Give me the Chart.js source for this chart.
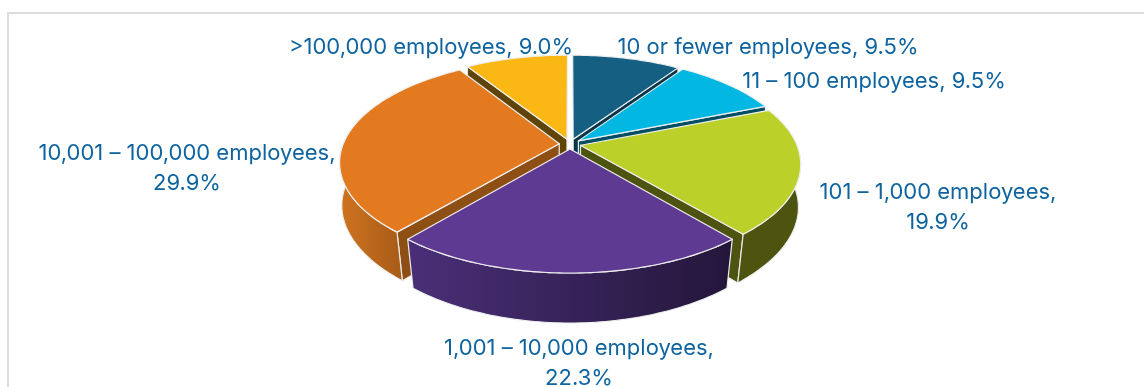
<!DOCTYPE html>
<html>
<head>
<meta charset="utf-8">
<title>Employees</title>
<script src="https://cdn.jsdelivr.net/npm/chart.js@4/dist/chart.umd.min.js"></script>
<style>
  html, body { margin: 0; padding: 0; background: #fff; overflow: hidden; }
  #frame { position: absolute; left: 7px; top: 12px; width: 1150px; height: 400px; border: 2px solid #dcdcdc; box-sizing: border-box; }
  canvas { position: absolute; left: 0; top: 0; }
</style>
</head>
<body>
<div id="frame"></div>
<canvas id="sizeChart" width="1144" height="387"></canvas>
<script>
const categories = ['10 or fewer employees', '11 – 100 employees', '101 – 1,000 employees', '1,001 – 10,000 employees', '10,001 – 100,000 employees', '>100,000 employees'];
const shares = [9.5, 9.5, 19.9, 22.3, 29.9, 9.0];

const topColors = ['#156082', '#02b8e3', '#bcd02a', '#5e3a92', '#e47a1f', '#fbb713'];
const cutColors = ['#0b3548', '#014e63', '#4d5410', '#2c1b45', '#8e4f14', '#5f4307'];
const rimColors = [['#0f4760', '#0b3548'], ['#028ab0', '#014e63'], ['#4d5410', '#4d5410'], ['#4a2f78', '#24163a'], ['#cf7420', '#ab5d18'], ['#a8790c', '#5f4307']];

// label text placement: centre x, centre y of the first line, wrapped or not
const labelSpots = [[768, 47, false], [874, 81, false], [938, 192, true], [579, 348, true], [187, 153, true], [431, 47, false]];

// perspective of the tilted disc
const view = { cx: 570, cy: 144, a: 216, b: 100.3, k: 0.175, explode: 0.05 };

function project(u, v) {
  const w = 1 + view.k * v;
  return { x: view.cx + view.a * u / w, y: view.cy - view.b * v / w };
}

// same point on the underside of the disc, further from the camera
function drop(p) {
  const shrink = 1 - 0.03 * Math.max(0, p.y - 130) / 100;
  const depth = 46 + 4 * (p.y - 150) / 123;
  return { x: view.cx + (p.x - view.cx) * shrink, y: p.y + depth };
}

function tracePath(ctx, pts) {
  ctx.beginPath();
  pts.forEach((p, i) => (i ? ctx.lineTo(p.x, p.y) : ctx.moveTo(p.x, p.y)));
  ctx.closePath();
}

function paint(ctx, pts, fill) {
  tracePath(ctx, pts);
  ctx.fillStyle = fill;
  ctx.fill();
  ctx.strokeStyle = '#eeeeee';
  ctx.lineWidth = 1.2;
  ctx.lineJoin = 'round';
  ctx.stroke();
}

const pie3d = {
  id: 'pie3d',
  // the flat arcs only supply the angles, the disc is drawn here instead
  beforeDatasetsDraw(chart) {
    const ctx = chart.ctx;
    const arcs = chart.getDatasetMeta(0).data.map((arc, i) => ({ i, start: arc.startAngle, end: arc.endAngle, mid: (arc.startAngle + arc.endAngle) / 2 }));
    arcs.sort((p, q) => Math.sin(p.mid) - Math.sin(q.mid));

    ctx.save();
    arcs.forEach(s => {
      const ox = view.explode * Math.cos(s.mid);
      const oy = -view.explode * Math.sin(s.mid);
      const apex = project(ox, oy);
      const rim = [];
      const front = [];
      const steps = Math.ceil((s.end - s.start) / 0.02);
      for (let n = 0; n <= steps; n++) {
        const t = s.start + (s.end - s.start) * n / steps;
        const p = project(ox + Math.cos(t), oy - Math.sin(t));
        rim.push(p);
        // outer wall only shows on the side facing the camera
        if (Math.sin(t) > -0.15) front.push(p);
      }
      const first = rim[0];
      const last = rim[rim.length - 1];

      // cut faces, skipping the ones turned away from the camera
      if (Math.cos(s.start) < 0) paint(ctx, [apex, first, drop(first), drop(apex)], cutColors[s.i]);
      if (Math.cos(s.end) > 0) paint(ctx, [apex, last, drop(last), drop(apex)], cutColors[s.i]);

      if (front.length > 1) {
        const xs = front.map(p => p.x);
        const grad = ctx.createLinearGradient(Math.min(...xs), 0, Math.max(...xs), 0);
        grad.addColorStop(0, rimColors[s.i][0]);
        grad.addColorStop(1, rimColors[s.i][1]);
        paint(ctx, front.concat(front.map(drop).reverse()), grad);
      }

      paint(ctx, [apex].concat(rim), topColors[s.i]);
    });
    ctx.restore();

    // slice labels
    ctx.save();
    ctx.fillStyle = '#0f64a0';
    ctx.font = '22px Inter';
    ctx.textAlign = 'center';
    ctx.textBaseline = 'middle';
    labelSpots.forEach((spot, i) => {
      const pct = shares[i].toFixed(1) + '%';
      if (spot[2]) {
        ctx.fillText(categories[i] + ',', spot[0], spot[1]);
        ctx.fillText(pct, spot[0], spot[1] + 30);
      } else {
        ctx.fillText(categories[i] + ', ' + pct, spot[0], spot[1]);
      }
    });
    ctx.restore();
    return false;
  }
};

new Chart(document.getElementById('sizeChart'), {
  type: 'pie',
  data: {
    labels: categories,
    datasets: [{ data: shares, backgroundColor: topColors, borderWidth: 0 }]
  },
  options: {
    responsive: false,
    animation: false,
    plugins: { legend: { display: false }, tooltip: { enabled: false } }
  },
  plugins: [pie3d]
});
</script>
</body>
</html>
